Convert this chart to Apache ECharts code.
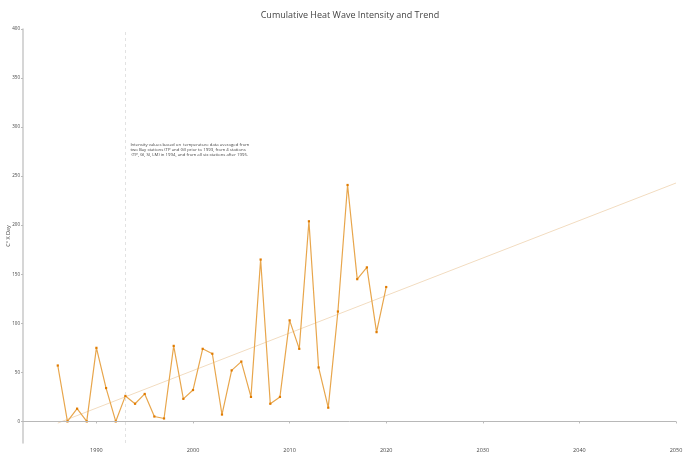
<!DOCTYPE html>
<html><head><meta charset="utf-8">
<script src="https://cdn.jsdelivr.net/npm/echarts@6/dist/echarts.min.js"></script>
<style>html,body{margin:0;padding:0;background:#fff}#c{width:700px;height:467px}</style>
</head><body><div id="c"></div>
<script>
const years = [1986,1987,1988,1989,1990,1991,1992,1993,1994,1995,1996,1997,1998,1999,2000,2001,2002,2003,2004,2005,2006,2007,2008,2009,2010,2011,2012,2013,2014,2015,2016,2017,2018,2019,2020];
const intensity = [57,0,13,0,75,34,0,26,18,28,5,3,77,23,32,74,69,7,52,61,25,165,18,25,103,74,204,55,14,112,241,145,157,91,137];
const trendYears = [1986,2050];
const trendValues = [-1.7,243];
const xTicks = [1990,2000,2010,2020,2030,2040,2050];
const yTicks = [0,50,100,150,200,250,300,350,400];
const noteYear = 1993;
const noteLines = ["Intensity values based on  temperature data averaged from","two Bay stations (TP and GI) prior to 1993, from 4 stations"," (TP, GI, SI, LM) in 1994, and from all six stations after 1995."];

const chart = echarts.init(document.getElementById('c'));
const font = "'Open Sans', sans-serif";
chart.setOption({
  animation:false,
  textStyle:{fontFamily:font},
  title:{text:'Cumulative Heat Wave Intensity and Trend',left:'center',top:6,
    textStyle:{fontFamily:font,fontSize:9,fontWeight:'normal',color:'#444'}},
  grid:{left:23,right:24,top:29,bottom:24,containLabel:false,outerBoundsMode:'none'},
  xAxis:{type:'value',min:1982.4,max:2050,
    axisLine:{show:false},
    splitLine:{show:false},
    axisTick:{show:true,length:2,lineStyle:{color:'#bbb'},customValues:xTicks},
    axisLabel:{fontSize:5.5,color:'#444',margin:4,customValues:xTicks,formatter:v=>String(v)}},
  yAxis:{type:'value',min:-22,max:400,
    splitLine:{show:false},
    axisLine:{show:true,lineStyle:{color:'#c8c8c8',width:1.5}},
    axisTick:{show:true,length:2,lineStyle:{color:'#bbb'},customValues:yTicks},
    axisLabel:{fontSize:4.5,color:'#444',margin:3,customValues:yTicks,formatter:v=>String(v)}},
  series:[
    {type:'line',data:trendYears.map((y,i)=>[y,trendValues[i]]),symbol:'none',
      lineStyle:{color:'#f2dcc0',width:1},z:1,
      markLine:{silent:true,symbol:'none',label:{show:false},
        data:[
          {xAxis:noteYear,lineStyle:{color:'#e2e2e2',type:[3,3],width:1}},
          {yAxis:0,lineStyle:{color:'#b8b8b8',type:'solid',width:1}}
        ]}},
    {type:'line',data:years.map((y,i)=>[y,intensity[i]]),symbol:'rect',symbolSize:2.2,
      itemStyle:{color:'#e07b00'},lineStyle:{color:'#e8a64c',width:1.2},z:3}
  ]
});
const p = chart.convertToPixel({gridIndex:0},[noteYear,285]);
const mid = chart.convertToPixel({gridIndex:0},[1982.4,189])[1];
chart.setOption({graphic:[
  {type:'text',left:p[0]+5,top:p[1],
    style:{text:noteLines.join('\n'),fontSize:4.3,lineHeight:5,fill:'#444',fontFamily:font}},
  {type:'text',x:8,y:mid,rotation:Math.PI/2,
    style:{text:'C° X Day',fontSize:5.5,fill:'#444',fontFamily:font,align:'center',verticalAlign:'middle'}}
]});
</script></body></html>
